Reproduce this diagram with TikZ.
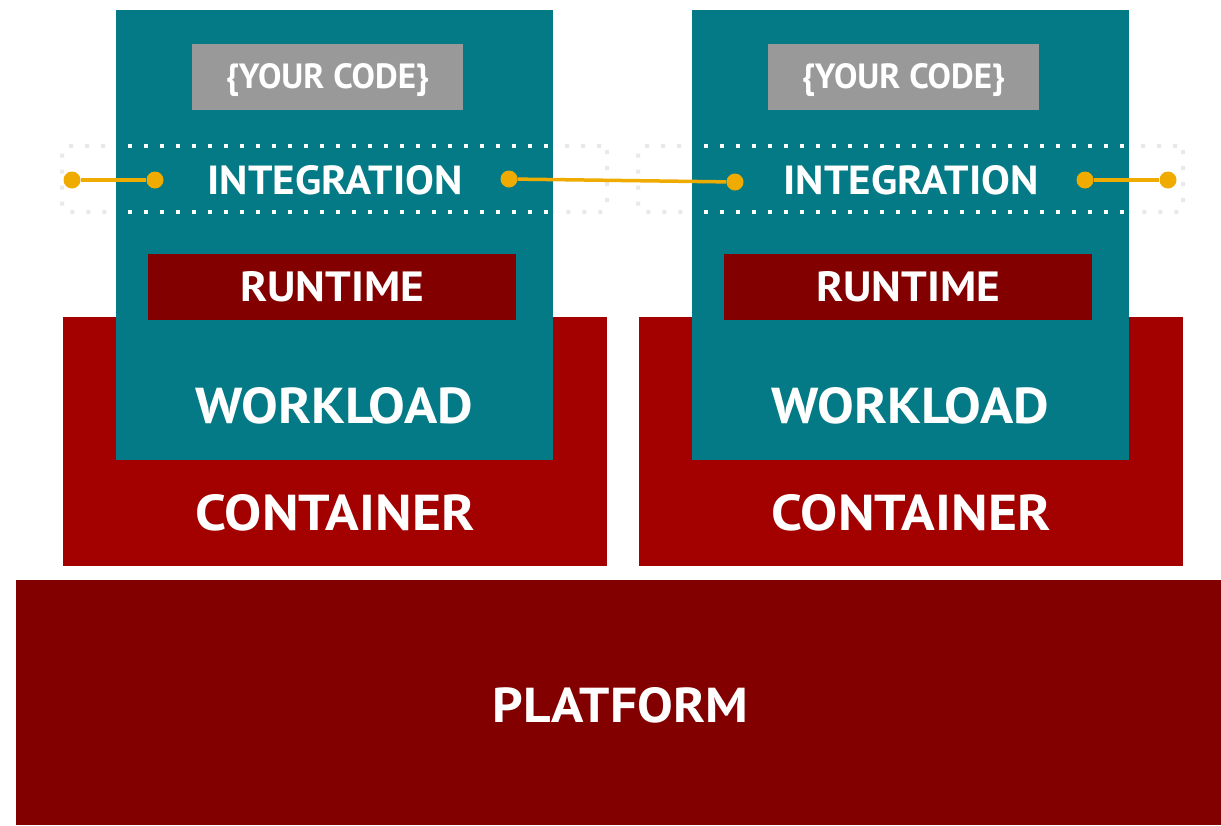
\documentclass[tikz,border=0pt]{standalone}
\usepackage{fontspec}
\setmainfont{PT Sans}
\usepackage{graphicx}
\definecolor{tealc}{HTML}{037A86}
\definecolor{conred}{HTML}{A30000}
\definecolor{darkred}{HTML}{820000}
\definecolor{codegray}{HTML}{999999}
\definecolor{yel}{HTML}{F0AB00}
\definecolor{faint}{HTML}{E9E9E9}
\tikzset{
  box/.style={rectangle, inner sep=0pt, outer sep=0pt, draw=none},
  tealbox/.style={box, fill=tealc, minimum width=437pt, minimum height=450pt},
  conbox/.style={box, fill=conred, minimum width=544pt, minimum height=249pt},
  platbox/.style={box, fill=darkred, minimum width=1205pt, minimum height=245pt},
  rtbox/.style={box, fill=darkred, minimum width=368pt, minimum height=66pt},
  codebox/.style={box, fill=codegray, minimum width=271pt, minimum height=66pt},
  frame/.style={box, draw=faint, line width=4pt, dash pattern=on 4pt off 12pt, rounded corners=6pt, minimum width=545pt, minimum height=66pt},
  wdots/.style={draw=white, line width=4pt, dash pattern=on 4pt off 12pt},
  lbl/.style={inner sep=0pt, outer sep=0pt, text=white, font=\bfseries},
  ydot/.style={circle, fill=yel, inner sep=0pt, minimum size=17pt},
  yline/.style={draw=yel, line width=3.5pt},
}
\begin{document}
\begin{tikzpicture}[x=1pt,y=-1pt]
\useasboundingbox (0,0) rectangle (1221,825);
% platform and containers
\node[platbox] (plat) at (618.5,702.5) {};
\node[conbox] (c1) at (335,441.5) {};
\node[conbox] (c2) at (911,441.5) {};
% integration frames
\node[frame] (f1) at (334.5,179) {};
\node[frame] (f2) at (910.5,179) {};
% workloads
\node[tealbox] (t1) at (334.5,235) {};
\node[tealbox] (t2) at (910.5,235) {};
\draw[wdots] (128,146) -- (550,146);
\draw[wdots] (128,212) -- (550,212);
\draw[wdots] (704,146) -- (1126,146);
\draw[wdots] (704,212) -- (1126,212);
% code and runtime
\node[codebox] (k1) at (327.5,77) {};
\node[codebox] (k2) at (903.5,77) {};
\node[rtbox] (r1) at (332,287) {};
\node[rtbox] (r2) at (908,287) {};
% labels
\node[lbl, anchor=base] (lk1) at (327.5,88.5) {\resizebox{203pt}{!}{\{YOUR CODE\}}};
\node[lbl, anchor=base] (lk2) at (903.5,88.5) {\resizebox{203pt}{!}{\{YOUR CODE\}}};
\node[lbl] (li1) at (335,180) {\resizebox{255pt}{29pt}{INTEGRATION}};
\node[lbl] (li2) at (911,180) {\resizebox{255pt}{29pt}{INTEGRATION}};
\node[lbl] (lr1) at (332,287) {\resizebox{184pt}{30pt}{RUNTIME}};
\node[lbl] (lr2) at (908,287) {\resizebox{184pt}{30pt}{RUNTIME}};
\node[lbl] (lw1) at (334.5,406) {\resizebox{277pt}{36pt}{WORKLOAD}};
\node[lbl] (lw2) at (910.5,406) {\resizebox{277pt}{36pt}{WORKLOAD}};
\node[lbl] (lc1) at (335,513) {\resizebox{279pt}{36pt}{CONTAINER}};
\node[lbl] (lc2) at (911,513) {\resizebox{279pt}{36pt}{CONTAINER}};
\node[lbl] (lp) at (620.5,705) {\resizebox{255pt}{35pt}{PLATFORM}};
% integration connectors
\node[ydot] (d1) at (72,180) {};
\node[ydot] (d2) at (155,180) {};
\node[ydot] (d3) at (509,179) {};
\node[ydot] (d4) at (735,182) {};
\node[ydot] (d5) at (1085,180) {};
\node[ydot] (d6) at (1168,180) {};
\draw[yline] (d1) -- (d2);
\draw[yline] (d3) -- (d4);
\draw[yline] (d5) -- (d6);
\end{tikzpicture}
\end{document}
